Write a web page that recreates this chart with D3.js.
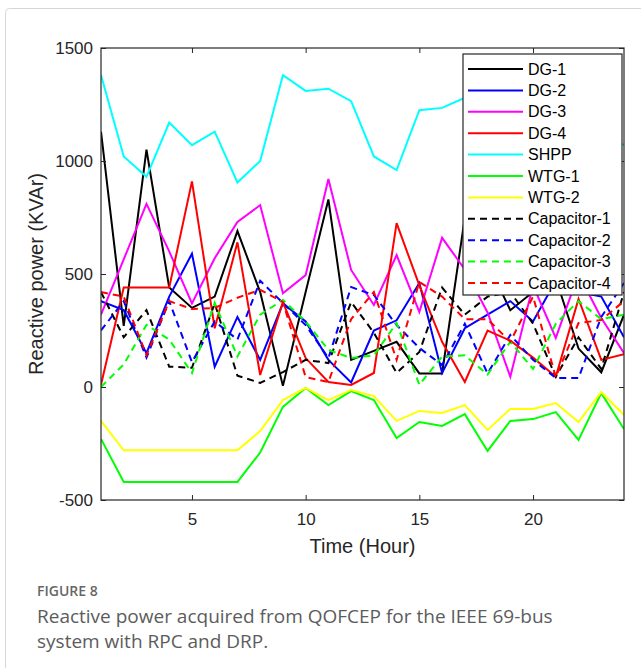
<!DOCTYPE html>
<html>
<head>
<meta charset="utf-8">
<script src="https://cdn.jsdelivr.net/npm/d3@7/dist/d3.min.js"></script>
<style>
  html, body { margin: 0; padding: 0; background: #fff; }
  svg { display: block; }
</style>
</head>
<body>
<svg id="chart" width="641" height="668"></svg>
<script>
// Hourly reactive power dispatch (kVAr) per unit
const hours = d3.range(1, 25);
const xTicks = [5, 10, 15, 20];
const yTicks = [-500, 0, 500, 1000, 1500];

const dg1  = [1130, 270, 1050, 440, 350, 400, 690, 420, 5, 420, 830, 120, 160, 200, 60, 60, 750, 550, 340, 420, 480, 170, 65, 320];
const dg2  = [380, 340, 150, 400, 590, 90, 310, 120, 370, 290, 120, 20, 250, 295, 460, 62, 260, 320, 380, 290, 470, 420, 400, 220];
const dg3  = [320, 565, 810, 600, 370, 570, 730, 805, 415, 495, 920, 518, 363, 584, 332, 660, 520, 330, 45, 450, 217, 500, 305, 150];
const dg4  = [10, 440, 440, 440, 910, 260, 640, 53, 376, 128, 22, 9, 62, 725, 450, 200, 22, 250, 205, 130, 45, 390, 120, 145];
const shpp = [1380, 1020, 930, 1170, 1070, 1130, 905, 1000, 1380, 1310, 1320, 1265, 1020, 960, 1225, 1235, 1280, 1310, 1290, 1250, 1200, 1180, 1130, 1070];
const wtg1 = [-230, -420, -420, -420, -420, -420, -420, -290, -88, -4, -80, -18, -58, -226, -155, -172, -120, -283, -150, -142, -111, -234, -27, -186];
const wtg2 = [-150, -280, -280, -280, -280, -280, -280, -195, -58, -4, -58, -13, -40, -150, -106, -115, -80, -190, -97, -97, -71, -155, -22, -124];
const cap1 = [420, 220, 340, 90, 85, 370, 50, 18, 66, 120, 106, 376, 240, 62, 155, 440, 320, 400, 420, 280, 45, 220, 80, 420];
const cap2 = [250, 380, 130, 380, 110, 290, 210, 470, 372, 274, 128, 442, 407, 274, 173, 97, 280, 60, 230, 120, 40, 40, 310, 460];
const cap3 = [0, 100, 275, 210, 62, 372, 135, 320, 385, 290, 164, 128, 140, 283, 10, 135, 140, 55, 200, 80, 280, 380, 300, 320];
const cap4 = [420, 400, 140, 380, 345, 350, 395, 430, 376, 44, 22, 300, 420, 120, 465, 400, 300, 300, 200, 400, 44, 283, 296, 380];

const seriesNames = ["DG-1", "DG-2", "DG-3", "DG-4", "SHPP", "WTG-1", "WTG-2",
                     "Capacitor-1", "Capacitor-2", "Capacitor-3", "Capacitor-4"];
const seriesValues = [dg1, dg2, dg3, dg4, shpp, wtg1, wtg2, cap1, cap2, cap3, cap4];
const seriesColors = ["#000000", "#0000ff", "#ff00ff", "#ff0000", "#00ffff", "#00ff00", "#ffff00",
                      "#000000", "#0000ff", "#00ff00", "#ff0000"];
const seriesDashed = [false, false, false, false, false, false, false, true, true, true, true];

const series = seriesNames.map((name, i) => ({
  name, values: seriesValues[i], color: seriesColors[i], dashed: seriesDashed[i]
}));

const svg = d3.select("#chart");
const plot = { left: 101, right: 624, top: 48, bottom: 500 };

// Panel outline
svg.append("rect")
  .attr("x", 5.5).attr("y", 8.5)
  .attr("width", 700).attr("height", 700)
  .attr("rx", 4)
  .attr("fill", "#fff")
  .attr("stroke", "#d6d6d6")
  .attr("stroke-width", 1);

const x = d3.scaleLinear().domain([1, 24]).range([plot.left, plot.right]);
const y = d3.scaleLinear().domain([-500, 1500]).range([plot.bottom, plot.top]);

const axisFont = "'Liberation Sans', Arial, sans-serif";
const plainNumber = d => String(d);

svg.append("defs").append("clipPath").attr("id", "plotclip")
  .append("rect")
  .attr("x", plot.left).attr("y", plot.top)
  .attr("width", plot.right - plot.left).attr("height", plot.bottom - plot.top);

// Series lines
const line = d3.line()
  .x((d, i) => x(hours[i]))
  .y(d => y(d));

const linesG = svg.append("g").attr("clip-path", "url(#plotclip)");
series.forEach(s => {
  linesG.append("path")
    .attr("d", line(s.values))
    .attr("fill", "none")
    .attr("stroke", s.color)
    .attr("stroke-width", 2)
    .attr("stroke-linejoin", "miter")
    .attr("stroke-dasharray", s.dashed ? "7,5" : null);
});

// Axes with inward ticks on all four sides
const tickLen = 5;
const styleAxis = g => {
  g.select(".domain").remove();
  g.selectAll(".tick line").attr("stroke", "#262626").attr("stroke-width", 1);
  g.selectAll(".tick text")
    .attr("font-family", axisFont)
    .attr("font-size", 17)
    .attr("fill", "#262626");
};

svg.append("g")
  .attr("transform", `translate(0,${plot.bottom})`)
  .call(d3.axisBottom(x).tickValues(xTicks).tickFormat(plainNumber)
    .tickSizeInner(-tickLen).tickSizeOuter(0).tickPadding(13))
  .call(styleAxis);

svg.append("g")
  .attr("transform", `translate(0,${plot.top})`)
  .call(d3.axisTop(x).tickValues(xTicks).tickFormat("")
    .tickSizeInner(-tickLen).tickSizeOuter(0))
  .call(styleAxis);

svg.append("g")
  .attr("transform", `translate(${plot.left},0)`)
  .call(d3.axisLeft(y).tickValues(yTicks).tickFormat(plainNumber)
    .tickSizeInner(-tickLen).tickSizeOuter(0).tickPadding(8))
  .call(styleAxis);

svg.append("g")
  .attr("transform", `translate(${plot.right},0)`)
  .call(d3.axisRight(y).tickValues(yTicks).tickFormat("")
    .tickSizeInner(-tickLen).tickSizeOuter(0))
  .call(styleAxis);

// Plot frame
svg.append("rect")
  .attr("x", plot.left).attr("y", plot.top)
  .attr("width", plot.right - plot.left).attr("height", plot.bottom - plot.top)
  .attr("fill", "none")
  .attr("stroke", "#262626")
  .attr("stroke-width", 1.2);

// Axis titles
svg.append("text")
  .attr("x", (plot.left + plot.right) / 2)
  .attr("y", 553)
  .attr("text-anchor", "middle")
  .attr("font-family", axisFont)
  .attr("font-size", 20)
  .attr("fill", "#262626")
  .text("Time (Hour)");

svg.append("text")
  .attr("transform", `translate(43,${(plot.top + plot.bottom) / 2}) rotate(-90)`)
  .attr("text-anchor", "middle")
  .attr("font-family", axisFont)
  .attr("font-size", 20)
  .attr("fill", "#262626")
  .text("Reactive power (KVAr)");

// Legend
const legend = { left: 463, top: 54, width: 159, rowH: 21.4, firstY: 69 };
const legendG = svg.append("g");
legendG.append("rect")
  .attr("x", legend.left).attr("y", legend.top)
  .attr("width", legend.width)
  .attr("height", legend.firstY - legend.top + legend.rowH * (series.length - 1) + 12)
  .attr("fill", "#fff")
  .attr("stroke", "#262626")
  .attr("stroke-width", 1.2);

series.forEach((s, i) => {
  const ry = legend.firstY + i * legend.rowH;
  legendG.append("line")
    .attr("x1", legend.left + 5).attr("x2", legend.left + 60)
    .attr("y1", ry).attr("y2", ry)
    .attr("stroke", s.color)
    .attr("stroke-width", 2)
    .attr("stroke-dasharray", s.dashed ? "7,5" : null);
  legendG.append("text")
    .attr("x", legend.left + 65)
    .attr("y", ry)
    .attr("dy", "0.35em")
    .attr("font-family", axisFont)
    .attr("font-size", 16)
    .attr("fill", "#000")
    .text(s.name);
});

// Caption
const capFont = "'Open Sans', 'Noto Sans', sans-serif";
svg.append("text")
  .attr("x", 37).attr("y", 596)
  .attr("font-family", capFont)
  .attr("font-size", 14)
  .attr("font-weight", 600)
  .attr("fill", "#666")
  .text("FIGURE 8");
svg.append("text")
  .attr("x", 37).attr("y", 623)
  .attr("font-family", capFont)
  .attr("font-size", 19)
  .attr("fill", "#5c5c5c")
  .text("Reactive power acquired from QOFCEP for the IEEE 69-bus");
svg.append("text")
  .attr("x", 37).attr("y", 648)
  .attr("font-family", capFont)
  .attr("font-size", 19)
  .attr("fill", "#5c5c5c")
  .text("system with RPC and DRP.");
</script>
</body>
</html>
